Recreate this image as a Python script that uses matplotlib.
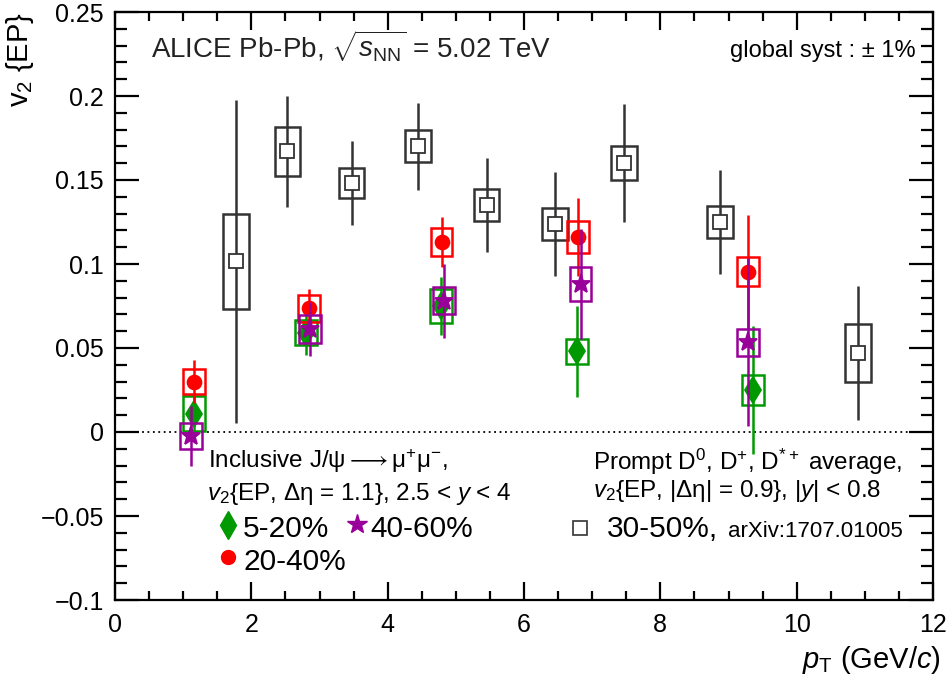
import matplotlib
matplotlib.use("Agg")
import matplotlib.pyplot as plt
from matplotlib.patches import Rectangle
from matplotlib.ticker import MultipleLocator, FuncFormatter

plt.rcParams['font.family'] = ['Liberation Sans', 'DejaVu Sans']
plt.rcParams['mathtext.fontset'] = 'custom'
plt.rcParams['mathtext.rm'] = 'Liberation Sans'
plt.rcParams['mathtext.it'] = 'Liberation Sans:italic'
plt.rcParams['mathtext.bf'] = 'Liberation Sans:bold'
plt.rcParams['axes.unicode_minus'] = True

# ---------------- data ----------------
# D mesons 30-50% (arXiv:1707.01005)
d_pt = [1.77, 2.53, 3.47, 4.45, 5.45, 6.45, 7.47, 8.88, 10.9]
d_v2 = [0.1015, 0.167, 0.148, 0.170, 0.135, 0.124, 0.160, 0.125, 0.047]
d_stat = [0.096, 0.033, 0.025, 0.026, 0.028, 0.031, 0.035, 0.031, 0.040]
d_sys = [0.0285, 0.0145, 0.009, 0.0095, 0.0095, 0.0095, 0.010, 0.0095, 0.017]

# Inclusive J/psi 5-20%
g_pt = [1.16, 2.80, 4.78, 6.78, 9.36]
g_v2 = [0.011, 0.059, 0.075, 0.048, 0.025]
g_stat = [0.012, 0.013, 0.017, 0.027, 0.038]
g_sys = [0.0105, 0.0074, 0.0104, 0.0076, 0.0092]

# Inclusive J/psi 20-40%
r_pt = [1.16, 2.84, 4.79, 6.79, 9.29]
r_v2 = [0.030, 0.0736, 0.113, 0.116, 0.0954]
r_stat = [0.013, 0.0115, 0.015, 0.0233, 0.034]
r_sys = [0.0076, 0.0079, 0.0082, 0.0095, 0.0085]

# Inclusive J/psi 40-60%
p_pt = [1.11, 2.86, 4.83, 6.83, 9.29]
p_v2 = [-0.0024, 0.0611, 0.0782, 0.0881, 0.0534]
p_stat = [0.018, 0.016, 0.022, 0.033, 0.050]
p_sys = [0.008, 0.0083, 0.008, 0.0101, 0.008]

centrality_labels = ['5-20%', '20-40%', '40-60%', '30-50%,']

# ---------------- figure ----------------
fig = plt.figure(figsize=(9.5, 6.9), dpi=100)
ax = fig.add_axes([115/950, 1-600/690, 818/950, 588/690])
ax.set_xlim(0, 12)
ax.set_ylim(-0.1, 0.25)

ax.axhline(0, color='black', lw=1.3, ls=(0, (1, 2)), zorder=1)

def draw_series(pt, v2, stat, sys, color, marker, ms, hw, mfc=None, z=3):
    for x, y, s in zip(pt, v2, sys):
        ax.add_patch(Rectangle((x - hw, y - s), 2 * hw, 2 * s, fill=False,
                               edgecolor=color, lw=1.8, zorder=z))
    ax.errorbar(pt, v2, yerr=stat, fmt='none', ecolor=color, elinewidth=1.8,
                capsize=0, zorder=z)
    ax.plot(pt, v2, ls='none', marker=marker, ms=ms, color=color,
            mfc=mfc if mfc else color, mec=color, mew=1.3, zorder=z + 0.5)

dark = '#333333'
green = '#009900'
red = '#ff0000'
purple = '#990099'

draw_series(d_pt, d_v2, d_stat, d_sys, dark, 's', 10, 0.19, mfc='white', z=2)
draw_series(g_pt, g_v2, g_stat, g_sys, green, 'd', 13, 0.16, z=3)
draw_series(r_pt, r_v2, r_stat, r_sys, red, 'o', 10, 0.16, z=4)
draw_series(p_pt, p_v2, p_stat, p_sys, purple, '*', 14, 0.16, z=5)

# ---------------- axes styling ----------------
for sp in ax.spines.values():
    sp.set_linewidth(1.6)
ax.xaxis.set_major_locator(MultipleLocator(2))
ax.xaxis.set_minor_locator(MultipleLocator(0.5))
ax.yaxis.set_major_locator(MultipleLocator(0.05))
ax.yaxis.set_minor_locator(MultipleLocator(0.01))
ax.tick_params(axis='both', which='both', direction='in', top=True, right=True,
               width=1.6, labelsize=18)
ax.tick_params(axis='y', which='major', length=17, pad=8)
ax.tick_params(axis='y', which='minor', length=8.5)
ax.tick_params(axis='x', which='major', length=13, pad=9)
ax.tick_params(axis='x', which='minor', length=6.5)
ax.yaxis.set_major_formatter(FuncFormatter(lambda v, p: ('%g' % round(v, 3)).replace('-', '\u2212')))
ax.xaxis.set_major_formatter(FuncFormatter(lambda v, p: '%g' % v))

# axis titles
fig.text(20/950, 1-12/690, r'v$_{2}$ {EP}', rotation=90, ha='center', va='top', fontsize=21)
fig.text(941/950, 1-668/690, r'$p_{\rm T}$ (GeV/$c$)', ha='right', va='baseline', fontsize=21)

# header texts
fig.text(151/950, 1-57/690, r'ALICE Pb-Pb, $\sqrt{s_{\rm NN}}$ = 5.02 TeV', ha='left',
         va='baseline', fontsize=20, color='#222222')
fig.text(916/950, 1-57/690, 'global syst : \u00b1 1%', ha='right', va='baseline', fontsize=17)

# legend: J/psi
fig.text(208/950, 1-468/690, 'Inclusive J/\u03c8$\\longrightarrow$\u03bc$^{+}$\u03bc$^{-}$,', ha='left',
         va='baseline', fontsize=17.5)
fig.text(207/950, 1-500/690, '$v_{2}${EP, \u0394\u03b7 = 1.1}, 2.5 < $y$ < 4', ha='left',
         va='baseline', fontsize=17.5)
ax.plot([(228-115)/818], [(600-525)/588], transform=ax.transAxes, marker='d', ms=14,
        color=green, ls='none', clip_on=False)
fig.text(243/950, 1-537/690, centrality_labels[0], ha='left', va='baseline', fontsize=21.5)
ax.plot([(357-115)/818], [(600-524)/588], transform=ax.transAxes, marker='*', ms=15,
        color=purple, ls='none', clip_on=False)
fig.text(370/950, 1-537/690, centrality_labels[2], ha='left', va='baseline', fontsize=21.5)
ax.plot([(228-115)/818], [(600-557)/588], transform=ax.transAxes, marker='o', ms=10,
        color=red, ls='none', clip_on=False)
fig.text(244/950, 1-570/690, centrality_labels[1], ha='left', va='baseline', fontsize=21.5)

# legend: D mesons
fig.text(593/950, 1-470/690, r'Prompt D$^{0}$, D$^{+}$, D$^{*+}$ average,', ha='left',
         va='baseline', fontsize=17.5)
fig.text(593/950, 1-497/690, '$v_{2}${EP, |\u0394\u03b7| = 0.9}, |$y$| < 0.8', ha='left',
         va='baseline', fontsize=17.5)
ax.plot([(580-115)/818], [(600-528)/588], transform=ax.transAxes, marker='s', ms=10,
        mfc='white', mec=dark, mew=1.2, ls='none', clip_on=False)
fig.text(607/950, 1-537/690, centrality_labels[3], ha='left', va='baseline', fontsize=21.5)
fig.text(903/950, 1-537/690, 'arXiv:1707.01005', ha='right', va='baseline', fontsize=16)

fig.savefig('out.png', dpi=100)
